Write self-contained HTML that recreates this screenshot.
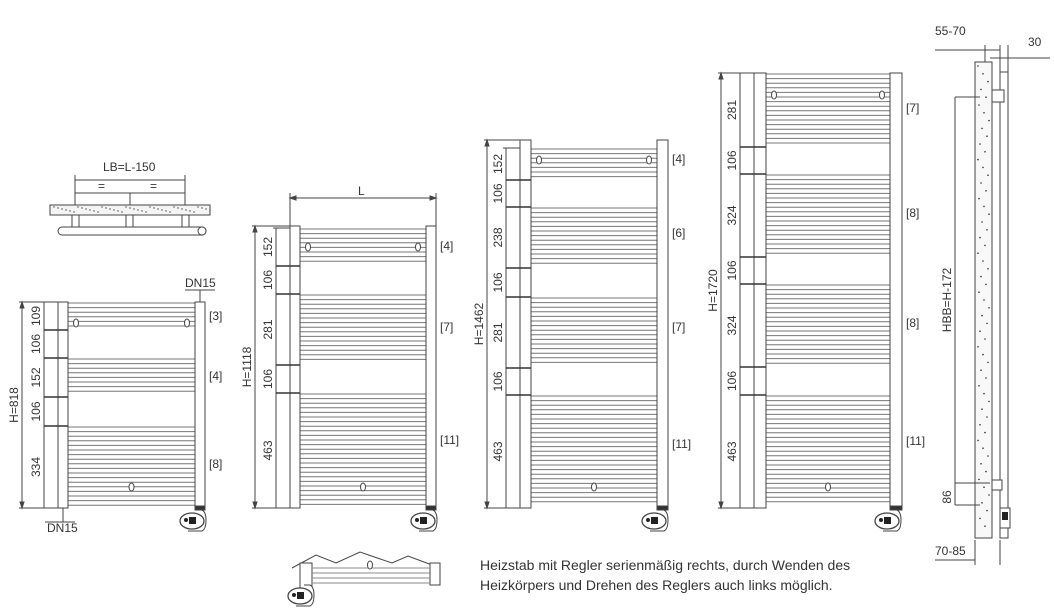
<!DOCTYPE html>
<html><head><meta charset="utf-8">
<style>
html,body{margin:0;padding:0;background:#fff;}
svg{display:block;font-family:"Liberation Sans",Arial,sans-serif;}
</style></head>
<body>
<svg id="s" width="1054" height="616" viewBox="0 0 1054 616" xmlns="http://www.w3.org/2000/svg">
<g id="g" fill="none" stroke="#444" stroke-width="1"></g>
<g font-size="12" fill="#333">
<text x="103" y="171">LB=L-150</text>
<text x="98" y="190">=</text>
<text x="150" y="190">=</text>
<text x="185" y="287">DN15</text>
<text x="47" y="532">DN15</text>
<text x="358" y="195">L</text>
<text x="935" y="35">55-70</text>
<text x="1028" y="46">30</text>
<text x="935" y="555">70-85</text>
<text x="480" y="570" font-size="14">Heizstab mit Regler serienmäßig rechts, durch Wenden des</text>
<text x="480" y="590" font-size="14">Heizkörpers und Drehen des Reglers auch links möglich.</text>
</g>
<g id="t" font-size="12" fill="#333"></g>
</svg>
<script>
var G=document.getElementById('g'),T=document.getElementById('t');
var s='',t='';
function L(x1,y1,x2,y2,c,w){s+='<line x1="'+x1+'" y1="'+y1+'" x2="'+x2+'" y2="'+y2+'" stroke="'+(c||'#444')+'" stroke-width="'+(w||1)+'"/>';}
function R(x,y,w,h,f){s+='<rect x="'+x+'" y="'+y+'" width="'+w+'" height="'+h+'" fill="'+(f||'#fff')+'"/>';}
function E(x,y){s+='<ellipse cx="'+x+'" cy="'+y+'" rx="2.5" ry="4" fill="#fff"/>';}
function TX(x,y,str){t+='<text x="'+x+'" y="'+y+'">'+str+'</text>';}
function TV(x,y,str){t+='<text transform="translate('+x+','+y+') rotate(-90)" text-anchor="middle">'+str+'</text>';}
function heater(cx,y){
  s+='<path d="M'+(cx+4)+' '+(y)+' h6 q4 2 4 10 q0 9 -4 11 h-14" fill="#fff"/>';
  s+='<ellipse cx="'+cx+'" cy="'+(y+11)+'" rx="12" ry="8" fill="#fff" stroke-width="1.3"/>';
  s+='<rect x="'+(cx-3)+'" y="'+(y+7)+'" width="7" height="7" fill="#222" stroke="none"/><circle cx="'+(cx-6)+'" cy="'+(y+10)+'" r="2" fill="#222" stroke="none"/>';
}
function rad(lx,rx,pw,top,bot,bounds,labels,hx,hlab,oy,rlabels){
  var dx=lx-14;
  for(var i=0;i<bounds.length-1;i++){
    var a=bounds[i],b=bounds[i+1];
    if(labels[i]=='106')continue;
    for(var y=a+1;y<=b-2;y+=4.6){L(lx+pw,y.toFixed(1),rx,y.toFixed(1),'#777');}
  }
  R(lx,top,pw,bot-top);R(rx,top,pw,bot-top);
  E(lx+pw+8,oy);E(rx-8,oy);
  E((lx+rx+pw)/2,487);
  L(hx,top,hx,bot);L(hx-3,top,lx,top);L(hx-3,bot,lx,bot);
  s+='<path d="M'+hx+' '+top+' l-2 6 h4z M'+hx+' '+bot+' l-2 -6 h4z" fill="#444"/>';
  L(dx,bounds[0],dx,bot);
  for(i=0;i<bounds.length;i++){
    if(i>0&&i<bounds.length-1)L(dx,bounds[i],lx+pw,bounds[i],'#333',1.6);
    else L(dx-3,bounds[i],lx,bounds[i]);
  }
  for(i=0;i<labels.length;i++){TV(dx-4,(bounds[i]+bounds[i+1])/2,labels[i]);}
  TV(hx-4,(top+bot)/2,hlab);
  for(i=0;i<rlabels.length;i++)TX(rx+pw+4,rlabels[i][0],rlabels[i][1]);
  R(rx,bot-2,pw,4,'#333');
  heater(rx-3,bot+2);
}
rad(58,195,10,302,508,[302,330,358,397,426,508],['109','106','152','106','334'],22,'H=818',323,[[320,'[3]'],[380,'[4]'],[468,'[8]']]);
rad(290,426,10,226,508,[228,266,294,365,393,508],['152','106','281','106','463'],255,'H=1118',247,[[250,'[4]'],[331,'[7]'],[444,'[11]']]);
rad(520,657,11,140,508,[148,180,207,268,297,368,395,508],['152','106','238','106','281','106','463'],487,'H=1462',160,[[163,'[4]'],[237,'[6]'],[331,'[7]'],[448,'[11]']]);
rad(754,890,12,73,508,[73,147,174,257,284,367,395,508],['281','106','324','106','324','106','463'],721,'H=1720',95,[[112,'[7]'],[217,'[8]'],[327,'[8]'],[445,'[11]']]);
// L dim
L(290,198,436,198);L(290,193,290,226);L(436,193,436,226);
s+='<path d="M290 198 l6 -2 v4z M436 198 l-6 -2 v4z" fill="#444"/>';
// DN15 leaders
L(185,290,215,290);L(200,290,200,302);L(45,522,75,522);L(63,508,63,522);
// plan view
L(75,180,185,180);L(75,193,185,193);L(75,175,75,208);L(185,175,185,208);L(130,193,130,208);
R(50,205,160,10,'#f4f4f4');
for(var k=0;k<40;k++){s+='<circle cx="'+(54+k*4)+'" cy="'+(207+(k*7)%6)+'" r="0.7" fill="#444" stroke="none"/>';}
R(72,215,7,12);R(126,215,7,12);R(182,215,7,12);
s+='<rect x="58" y="227" width="148" height="8" rx="4" fill="#fff"/><circle cx="202" cy="231" r="4" fill="#fff"/>';
// side view
R(975,62,17,476,'#f8f8f8');
for(k=0;k<60;k++){s+='<circle cx="'+(978+(k*5)%12)+'" cy="'+(66+k*7.8)+'" r="0.8" fill="#333" stroke="none"/>';}
R(1000,72,8,466);
s+='<path d="M992 90 h12 v12 h-12z M992 480 h10 v10 h-10z" fill="#fff"/>';
L(955,97,980,97);L(955,97,955,505);L(955,505,980,505);
TV(951,300,'HBB=H-172');TV(951,497,'86');L(955,483,990,483);
L(935,50,1000,50);L(985,45,985,62);L(1000,45,1000,72);L(1008,45,1008,72);L(990,58,1050,58);
L(935,560,975,560);L(975,540,975,565);L(1000,540,1000,565);
s+='<rect x="1000" y="508" width="10" height="20" fill="#fff"/><rect x="1002" y="512" width="6" height="8" fill="#222" stroke="none"/>';
// bottom small view
s+='<path d="M292 568 L316 555 L336 563 L360 552 L392 563 L408 556 L440 568" />';
R(300,563,12,26);R(430,563,10,22);
for(k=0;k<4;k++)L(312,568+k*5,430,568+k*5,'#888');
E(370,565);heater(300,585);
G.innerHTML=s;T.innerHTML=t;
</script>
</body></html>
